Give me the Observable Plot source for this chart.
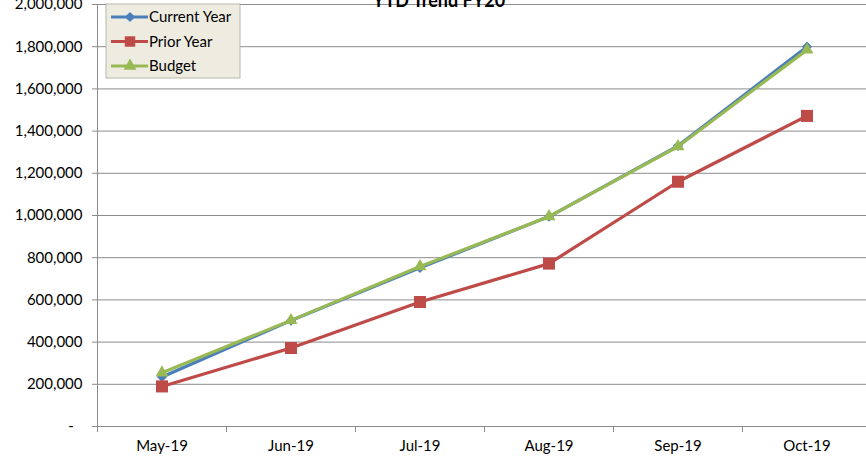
<!DOCTYPE html>
<html><head><meta charset="utf-8">
<script src="https://cdn.jsdelivr.net/npm/d3@7"></script>
<script src="https://cdn.jsdelivr.net/npm/@observablehq/plot@0.6"></script>
<style>
body{margin:0;background:#fff;font-family:Lato,sans-serif}
#chart svg{font-family:Lato,sans-serif}
#chart g[aria-label="y-axis tick label"],#chart g[aria-label="x-axis tick label"]{font-size:15px;fill:#000}
</style>
</head><body><div id="chart"></div>
<script>
const title = "YTD Trend FY20";
const months = ["May-19","Jun-19","Jul-19","Aug-19","Sep-19","Oct-19"];
const currentYear = [235000, 502000, 752000, 995000, 1330000, 1800000];
const priorYear = [190000, 372000, 590000, 772000, 1160000, 1472000];
const budget = [255000, 503000, 758000, 995000, 1327000, 1785000];
const yTicks = [0,200000,400000,600000,800000,1000000,1200000,1400000,1600000,1800000,2000000];
const seriesNames = ["Current Year","Prior Year","Budget"];
const colors = ["#4a7ebb","#be4b48","#98b954"];
const symbols = ["diamond2","square","triangle"];
const radii = [4.6, 6.8, 4.8];

const seriesVals = [currentYear, priorYear, budget];
const data = seriesNames.flatMap((s,i)=>months.map((m,j)=>({series:s, month:m, value:seriesVals[i][j]})));

const lineMarks = [];
seriesNames.forEach((s,i)=>{
  const d = data.filter(r=>r.series===s);
  lineMarks.push(Plot.line(d,{x:"month",y:"value",stroke:colors[i],strokeWidth:3.2}));
  lineMarks.push(Plot.dot(d,{x:"month",y:"value",fill:colors[i],stroke:"none",symbol:symbols[i],r:radii[i]}));
});

const fmt = v => v===0 ? "-\u2007" : d3.format(",")(v);

const chart = Plot.plot({
  width:866, height:458,
  marginTop:4, marginBottom:32, marginLeft:97, marginRight:0,
  x:{type:"band", domain:months, range:[97,871], padding:0},
  y:{domain:[0,2000000], range:[426,4]},
  marks:[
    Plot.ruleY(yTicks.filter(v=>v>0),{y:d=>d, stroke:"#8c8c8c", strokeWidth:1}),
    Plot.ruleY([0],{stroke:"#8c8c8c"}),
    Plot.axisY({ticks:yTicks, tickFormat:fmt, tickSize:5, tickPadding:10, stroke:"#8c8c8c", label:null}),
    Plot.ruleX([months[0]],{x:d=>d, dx:-64.5, stroke:"#8c8c8c", y1:0, y2:2000000}),
    Plot.axisX({tickSize:6, tickFormat:()=>"", dx:-64.5, stroke:"#8c8c8c", label:null}),
    Plot.axisX({tickSize:0, tickPadding:14, label:null}),
    ...lineMarks,
    Plot.text([title],{frameAnchor:"top", dx:-43, dy:2, lineAnchor:"bottom", fontWeight:"bold", fontSize:18, text:d=>d})
  ]
});
document.getElementById("chart").append(chart);

// Legend inside the plot area
const svg = d3.select(chart);
const lg = svg.append("g").attr("transform","translate(106,4)");
lg.append("rect").attr("width",134).attr("height",74).attr("fill","#eeece1").attr("stroke","#b8b8a8");
const d3sym = [d3.symbolDiamond2, d3.symbolSquare, d3.symbolTriangle];
seriesNames.forEach((s,i)=>{
  const y = 13 + i*24.5;
  const g = lg.append("g").attr("transform",`translate(0,${y})`);
  g.append("line").attr("x1",5).attr("x2",42).attr("y1",0).attr("y2",0).attr("stroke",colors[i]).attr("stroke-width",3.2);
  g.append("path").attr("d", d3.symbol(d3sym[i], Math.PI*radii[i]*radii[i]*(i===1?0.75:1))())
    .attr("transform","translate(24,0)").attr("fill",colors[i]);
  g.append("text").attr("x",43).attr("y",0).attr("dy","0.35em").attr("text-anchor","start")
    .attr("font-size",15).attr("font-family","Lato, sans-serif").attr("fill","#000").text(s);
});
</script></body></html>
